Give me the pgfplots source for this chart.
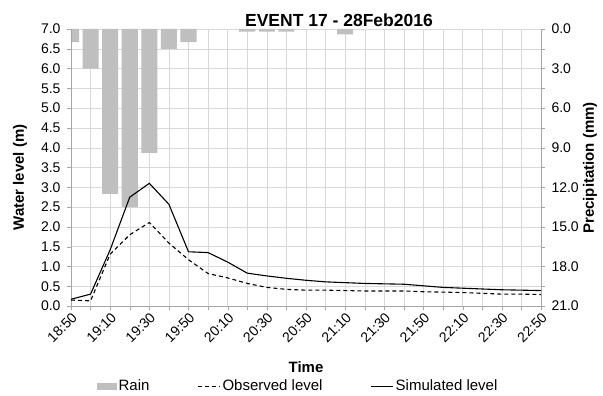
\documentclass[border=0pt]{standalone}
\usepackage{pgfplots}
\pgfplotsset{compat=1.18}
\usepackage{fontspec}
\setmainfont{Liberation Sans}
\definecolor{raingray}{HTML}{BFBFBF}
\definecolor{gridgray}{HTML}{D9D9D9}
\definecolor{axgray}{HTML}{A6A6A6}
\newcommand{\tickfont}{\fontsize{14}{16}\selectfont}
\begin{document}
\begin{tikzpicture}[x=1pt,y=1pt]
\path[use as bounding box] (0,0) rectangle (603,396);
% ---------- rain (secondary, reversed) axis: grid, x axis, right axis
\begin{axis}[at={(71pt,90pt)}, anchor=south west, scale only axis,
  width=470pt, height=277pt,
  xmin=0, xmax=240, ymin=0, ymax=21, y dir=reverse,
  axis x line*=bottom, axis y line*=right,
  axis line style={-, axgray},
  xtick={0,20,...,240}, minor xtick={10,30,...,230},
  xticklabels={18:50,19:10,19:30,19:50,20:10,20:30,20:50,21:10,21:30,21:50,22:10,22:30,22:50},
  ytick={0,3,...,21}, minor ytick={1.5,4.5,...,19.5},
  grid=both, major grid style={gridgray}, minor grid style={gridgray},
  tick align=outside, major tick length=4pt, minor tick length=4pt,
  tick style={axgray},
  x tick label style={rotate=45, anchor=north east, font=\tickfont, inner sep=1pt},
  y tick label style={font=\tickfont, xshift=3pt},
  /pgf/number format/.cd, fixed, fixed zerofill, precision=1, assume math mode=true,
]
\addplot[ybar, bar width=8.2, fill=raingray, draw=none] coordinates {
  (0,1.0) (10,3.0) (20,12.5) (30,13.5) (40,9.4) (50,1.5) (60,1.0)
  (90,0.2) (100,0.2) (110,0.2) (140,0.4)
};
\end{axis}
% ---------- water level axis
\begin{axis}[at={(71pt,90pt)}, anchor=south west, scale only axis,
  width=470pt, height=277pt,
  xmin=0, xmax=240, ymin=0, ymax=7,
  axis x line=none, axis y line*=left,
  axis line style={-, axgray},
  ytick={0,0.5,...,7},
  tick align=outside, major tick length=4pt,
  tick style={axgray},
  y tick label style={font=\tickfont, xshift=-3pt},
  /pgf/number format/.cd, fixed, fixed zerofill, precision=1, assume math mode=true,
  /pgfplots/.cd,
  legend columns=3,
  legend style={at={(axis description cs:0.483,-0.289)}, anchor=center,
    draw=none, fill=none, font=\fontsize{15}{17}\selectfont,
    /tikz/every even column/.append style={column sep=46pt},
    inner sep=0pt},
  legend image code/.code={\draw[#1] (0pt,0pt) -- (22pt,0pt);},
]
\addlegendimage{area legend, fill=raingray, draw=none,
  legend image code/.code={\fill[raingray] (0pt,-3.5pt) rectangle (20pt,3.5pt);}}
\addlegendentry{Rain}
\addplot[black, line width=1.1pt, dash pattern=on 4pt off 3pt] coordinates {
  (0,0.15) (10,0.13) (20,1.31) (30,1.80) (40,2.11) (50,1.59) (60,1.17) (70,0.82)
  (80,0.71) (90,0.57) (100,0.47) (110,0.42) (120,0.40) (130,0.40) (140,0.39)
  (150,0.38) (160,0.38) (170,0.38) (180,0.36) (190,0.35) (200,0.34) (210,0.32)
  (220,0.30) (230,0.30) (240,0.29)
};
\addlegendentry{Observed level}
\addplot[black, line width=1.1pt] coordinates {
  (0,0.17) (10,0.30) (20,1.42) (30,2.75) (40,3.10) (50,2.57) (60,1.37) (70,1.35)
  (80,1.11) (90,0.83) (100,0.76) (110,0.70) (120,0.65) (130,0.61) (140,0.59)
  (150,0.57) (160,0.56) (170,0.55) (180,0.51) (190,0.47) (200,0.45) (210,0.43)
  (220,0.41) (230,0.40) (240,0.39)
};
\addlegendentry{Simulated level}
\end{axis}
% ---------- titles
\node[anchor=base, font=\bfseries\fontsize{17.5}{20}\selectfont] at (339,369.5) {EVENT 17 - 28Feb2016};
\node[rotate=90, font=\bfseries\fontsize{15}{17}\selectfont] at (20,218.5) {Water level (m)};
\node[rotate=90, font=\bfseries\fontsize{15}{17}\selectfont] at (590,228) {Precipitation (mm)};
\node[font=\bfseries\fontsize{15}{17}\selectfont] at (306,29) {Time};
\end{tikzpicture}
\end{document}
